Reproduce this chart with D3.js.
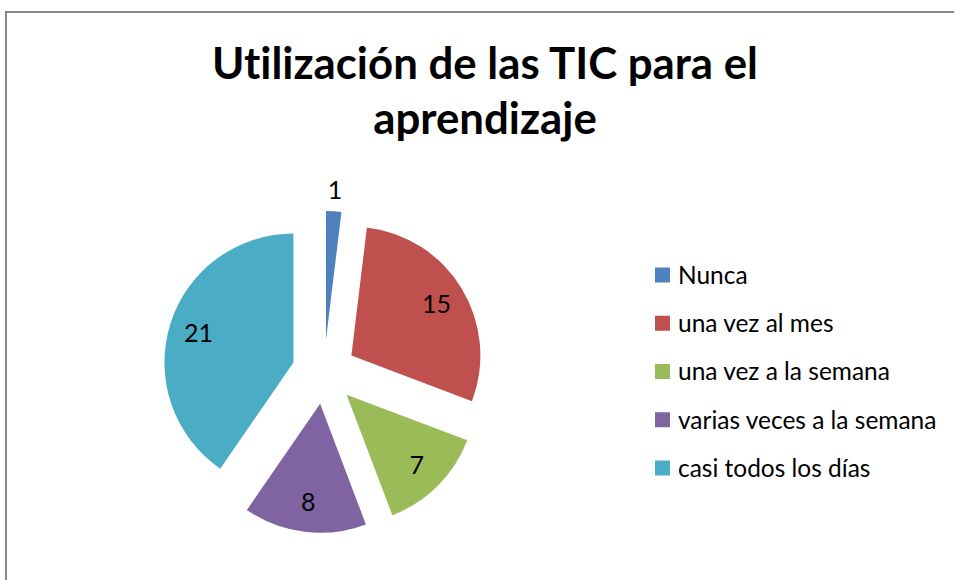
<!DOCTYPE html>
<html><head><meta charset="utf-8">
<script src="https://cdn.jsdelivr.net/npm/d3@7"></script>
<style>body{margin:0;background:#fff} svg{display:block} text{font-variant-ligatures:none;font-feature-settings:"liga" 0,"clig" 0}</style>
</head><body><svg id="c" width="954" height="580"></svg>
<script>
const categories = ["Nunca", "una vez al mes", "una vez a la semana", "varias veces a la semana", "casi todos los días"];
const values = [1, 15, 7, 8, 21];
const colors = ["#4F81BD", "#C0504D", "#9BBB59", "#8064A2", "#4BACC6"];
const titleLines = ["Utilización de las TIC para el", "aprendizaje"];

const FONT = "Lato, 'Open Sans', sans-serif";
const svg = d3.select("#c");
svg.append("rect").attr("width", 954).attr("height", 580).attr("fill", "#fff");
// chart border (only top/left visible in the crop)
svg.append("path").attr("d", "M6,580 V12 H954").attr("fill", "none").attr("stroke", "#878787").attr("stroke-width", 2);

// Title
const title = svg.append("g").attr("font-family", FONT).attr("font-weight", "bold").attr("fill", "#000").attr("text-anchor", "middle");
const t1 = title.append("text").attr("x", 485).attr("y", 79).attr("font-size", 47).text(titleLines[0]);
const w1 = t1.node().getComputedTextLength();
const tfs = 47 * 546 / w1;
t1.attr("font-size", tfs);
title.append("text").attr("x", 485).attr("y", 134).attr("font-size", tfs).text(titleLines[1]);

// Pie
const cx = 324, cy = 372, R = 129, explode = 32;
const pie = d3.pie().sort(null).value(d => d)(values);
const arc = d3.arc().innerRadius(0).outerRadius(R);
const g = svg.append("g").attr("transform", `translate(${cx},${cy})`);
const off = d => { const m = (d.startAngle + d.endAngle) / 2; return [explode * Math.sin(m), -explode * Math.cos(m)]; };
g.selectAll("path.slice").data(pie).join("path").attr("class", "slice")
  .attr("d", arc)
  .attr("fill", (d, i) => colors[i])
  .attr("transform", d => { const o = off(d); return `translate(${o[0]},${o[1]})`; });

// Data labels
const lr = d => (d.endAngle - d.startAngle) < 0.3 ? R + 21 : R * 0.77;
g.selectAll("text.lbl").data(pie).join("text").attr("class", "lbl")
  .attr("font-family", FONT).attr("font-size", 25).attr("fill", "#000")
  .attr("text-anchor", "middle").attr("dy", "0.36em")
  .attr("x", d => { const m = (d.startAngle + d.endAngle) / 2; return off(d)[0] + lr(d) * Math.sin(m); })
  .attr("y", d => { const m = (d.startAngle + d.endAngle) / 2; return off(d)[1] - lr(d) * Math.cos(m); })
  .text(d => d.data);

// Legend
const ly = d3.scalePoint().domain(categories).range([275, 468]);
const lg = svg.append("g").attr("font-family", FONT);
const items = lg.selectAll("g").data(categories).join("g").attr("transform", d => `translate(655,${ly(d)})`);
items.append("rect").attr("x", 0).attr("y", -7.5).attr("width", 15).attr("height", 15).attr("fill", (d, i) => colors[i]);
const lt = items.append("text").attr("x", 23).attr("dy", "0.36em").attr("font-size", 25).attr("fill", "#000").text(d => d);
const wl = lt.filter((d, i) => i === 2).node().getComputedTextLength();
lt.attr("font-size", 25 * 212 / wl);
</script></body></html>
